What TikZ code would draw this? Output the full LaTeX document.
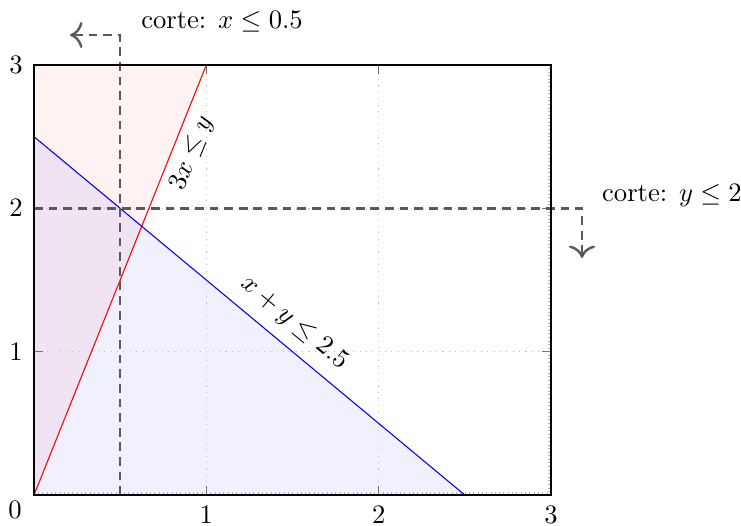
\documentclass[tikz,border=0pt]{standalone}
\usepackage{amssymb}
\usetikzlibrary{arrows.meta}
\begin{document}
\begin{tikzpicture}[x=64.8pt,y=53.9pt,
  cutline/.style={draw=black!65, line width=0.9pt, dash pattern=on 3.3pt off 2.2pt, -{To[scale=1.3]}},
  gridline/.style={draw=black!25, dotted, line width=0.4pt},
  majtick/.style={draw=black!55, line width=0.5pt},
  mintick/.style={draw=black!30, line width=0.25pt},
  lab/.style={inner sep=0pt}
]
\useasboundingbox (-0.1973,-0.2093) rectangle (4.1026,3.4535);
% filled regions
\fill[red, fill opacity=0.05] (0,0) -- (1,3) -- (0,3) -- cycle;
\fill[blue, fill opacity=0.06] (0,0) -- (2.5,0) -- (0,2.5) -- cycle;
% grid
\foreach \v in {1,2} {
  \draw[gridline] (\v,0) -- (\v,3);
  \draw[gridline] (0,\v) -- (3,\v);
}
% minor ticks
\foreach \v in {0.025,0.05,...,2.99} {
  \draw[mintick] (\v,0) -- ++(0,1pt);
}
\foreach \v in {0.025,0.05,...,2.99} {
  \draw[mintick] (3,\v) -- ++(-1pt,0);
}
% major ticks
\foreach \v in {1,2} {
  \draw[majtick] (\v,0) -- ++(0,3.4pt);
  \draw[majtick] (\v,3) -- ++(0,-3.4pt);
  \draw[majtick] (0,\v) -- ++(3.4pt,0);
  \draw[majtick] (3,\v) -- ++(-3.4pt,0);
}
% constraint lines
\coordinate (o) at (0,0);
\coordinate (r) at (1,3);
\coordinate (b1) at (0,2.5);
\coordinate (b2) at (2.5,0);
\draw[red, line width=0.4pt] (o) -- (r);
\draw[blue, line width=0.4pt] (b1) -- (b2);
\node[lab, rotate=68.2] (l1) at (0.917,2.386) {$3x \leq y$};
\node[lab, rotate=-39.7] (l2) at (1.509,1.200) {$x + y \leq 2.5$};
% cut lines
\coordinate (c1a) at (0.5,0);
\coordinate (c1b) at (0.5,3.209);
\coordinate (c1c) at (0.209,3.209);
\draw[cutline] (c1a) -- (c1b) -- (c1c);
\coordinate (c2a) at (0,2);
\coordinate (c2b) at (3.180,2);
\coordinate (c2c) at (3.180,1.654);
\draw[cutline] (c2a) -- (c2b) -- (c2c);
\node[lab] (t1) at (1.091,3.300) {corte: $x \leq 0.5$};
\node[lab] (t2) at (3.702,2.093) {corte: $y \leq 2$};
% axis box
\draw[black, line width=0.5pt] (0,0) rectangle (3,3);
% tick labels
\node[lab, anchor=north] (x1) at ([yshift=-4.1pt]1,0) {$1$};
\node[lab, anchor=north] (x2) at ([yshift=-4.1pt]2,0) {$2$};
\node[lab, anchor=north] (x3) at ([yshift=-4.1pt]3,0) {$3$};
\node[lab] (x0) at (-0.110,-0.105) {$0$};
\node[lab, anchor=east] (y1) at ([xshift=-4.1pt]0,1) {$1$};
\node[lab, anchor=east] (y2) at ([xshift=-4.1pt]0,2) {$2$};
\node[lab, anchor=east] (y3) at ([xshift=-4.1pt]0,3) {$3$};
\end{tikzpicture}
\end{document}
